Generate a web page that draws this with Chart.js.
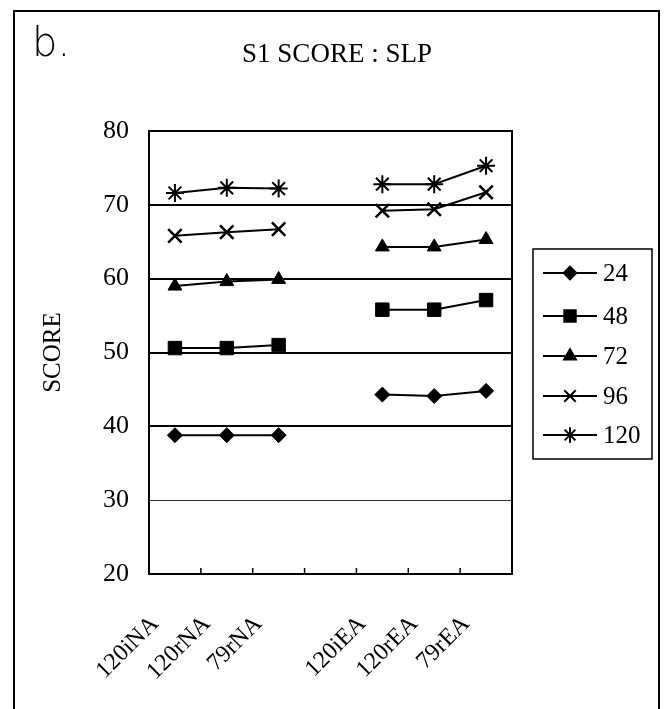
<!DOCTYPE html>
<html><head><meta charset="utf-8">
<script src="https://cdn.jsdelivr.net/npm/chart.js@4.4.1/dist/chart.umd.min.js"></script>
<style>html,body{margin:0;padding:0;background:#fff}#wrap{width:667px;height:709px;position:relative}</style>
</head><body><div id="wrap"><canvas id="c" width="667" height="709"></canvas></div>
<script>
const categories = ['120iNA', '120rNA', '79rNA', '', '120iEA', '120rEA', '79rEA'];
const seriesNames = ['24', '48', '72', '96', '120'];
const s24  = [38.8, 38.8, 38.8, null, 44.3, 44.1, 44.8];
const s48  = [50.6, 50.6, 51.0, null, 55.8, 55.8, 57.1];
const s72  = [59.0, 59.6, 59.9, null, 64.3, 64.3, 65.3];
const s96  = [65.8, 66.3, 66.7, null, 69.2, 69.4, 71.7];
const s120 = [71.6, 72.3, 72.2, null, 72.8, 72.8, 75.3];
const yMin = 20, yMax = 80, yStep = 10;
const chartTitle = 'S1 SCORE : SLP';
const yTitle = 'SCORE';
const panelLabel = 'b.';

const SERIF = '"Liberation Serif", "Times New Roman", serif';
const markers = [
  {pointStyle: 'rectRot', radius: 7.5, borderWidth: 1},
  {pointStyle: 'rect', radius: 9.5, borderWidth: 1},
  {pointStyle: 'triangle', radius: 8, borderWidth: 1},
  {pointStyle: 'crossRot', radius: 9.5, borderWidth: 2.5},
  {pointStyle: 'star', radius: 9, borderWidth: 2}
];
const values = [s24, s48, s72, s96, s120];

const datasets = seriesNames.map((n, i) => ({
  label: n,
  data: values[i],
  borderColor: '#000',
  backgroundColor: '#000',
  borderWidth: 2,
  pointStyle: markers[i].pointStyle,
  pointRadius: markers[i].radius,
  pointBorderWidth: markers[i].borderWidth,
  pointBackgroundColor: '#000',
  pointBorderColor: '#000',
  spanGaps: false,
  tension: 0
}));

const decor = {
  id: 'decor',
  afterDraw(chart) {
    const ctx = chart.ctx;
    const ca = chart.chartArea;
    const xs = chart.scales.x;
    ctx.save();
    // outer frame
    ctx.strokeStyle = '#000';
    ctx.lineWidth = 2;
    ctx.beginPath();
    ctx.moveTo(14, 709); ctx.lineTo(14, 11); ctx.lineTo(659, 11); ctx.lineTo(659, 709);
    ctx.stroke();
    // plot frame
    ctx.lineWidth = 2;
    ctx.strokeRect(ca.left, ca.top, ca.right - ca.left, ca.bottom - ca.top);
    // inner tick marks at category boundaries
    ctx.lineWidth = 1.5;
    for (let i = 1; i < categories.length; i++) {
      const x = (xs.getPixelForValue(i - 1) + xs.getPixelForValue(i)) / 2;
      ctx.beginPath(); ctx.moveTo(x, ca.bottom); ctx.lineTo(x, ca.bottom - 6); ctx.stroke();
    }
    // title
    ctx.fillStyle = '#000';
    ctx.font = '27px ' + SERIF;
    ctx.textAlign = 'center';
    ctx.textBaseline = 'alphabetic';
    ctx.fillText(chartTitle, 337, 62);
    // panel label
    ctx.font = '200 40px "DejaVu Sans", sans-serif';
    ctx.textAlign = 'left';
    ctx.fillText(panelLabel, 32, 56);
    // legend
    const lx = 533, ly = 249, lw = 119, lh = 210;
    ctx.lineWidth = 1.5;
    ctx.strokeRect(lx, ly, lw, lh);
    const rows = [273, 316, 356, 396, 435];
    chart.data.datasets.forEach((ds, i) => {
      const y = rows[i];
      ctx.strokeStyle = '#000';
      ctx.lineWidth = 2;
      ctx.beginPath(); ctx.moveTo(543, y); ctx.lineTo(597, y); ctx.stroke();
      ctx.fillStyle = '#000';
      Chart.helpers.drawPoint(ctx, {
        pointStyle: ds.pointStyle, radius: ds.pointRadius * 0.85, rotation: 0,
        borderWidth: ds.pointBorderWidth
      }, 570, y);
      ctx.fillStyle = '#000';
      ctx.strokeStyle = '#000';
      ctx.font = '25px ' + SERIF;
      ctx.textAlign = 'left';
      ctx.textBaseline = 'middle';
      ctx.fillText(ds.label, 603, y + 1);
    });
    ctx.restore();
  }
};

new Chart(document.getElementById('c'), {
  type: 'line',
  data: {labels: categories, datasets},
  options: {
    responsive: false,
    animation: false,
    devicePixelRatio: 1,
    layout: {padding: {left: 0, right: 155, top: 131, bottom: 0}},
    plugins: {legend: {display: false}, title: {display: false}, tooltip: {enabled: false}},
    scales: {
      x: {
        type: 'category',
        offset: true,
        grid: {display: false, drawTicks: false},
        border: {display: true, color: '#000', width: 2},
        ticks: {
          color: '#000', font: {family: SERIF, size: 24},
          minRotation: 45, maxRotation: 45, autoSkip: false,
          padding: 36, labelOffset: -20
        },
        afterFit(s) { s.height = 135; }
      },
      y: {
        min: yMin, max: yMax,
        grid: {
          drawTicks: false,
          color: (c) => c.tick && c.tick.value === 30 ? '#333' : '#000',
          lineWidth: (c) => c.tick && c.tick.value === 30 ? 1 : 2
        },
        border: {display: true, color: '#000', width: 2},
        ticks: {stepSize: yStep, color: '#000', font: {family: SERIF, size: 26}, padding: 20},
        title: {display: true, text: yTitle, color: '#000', font: {family: SERIF, size: 25}, padding: {top: 38, bottom: 0}},
        afterFit(s) { s.width = 149; }
      }
    }
  },
  plugins: [decor]
});
</script>
</body></html>
